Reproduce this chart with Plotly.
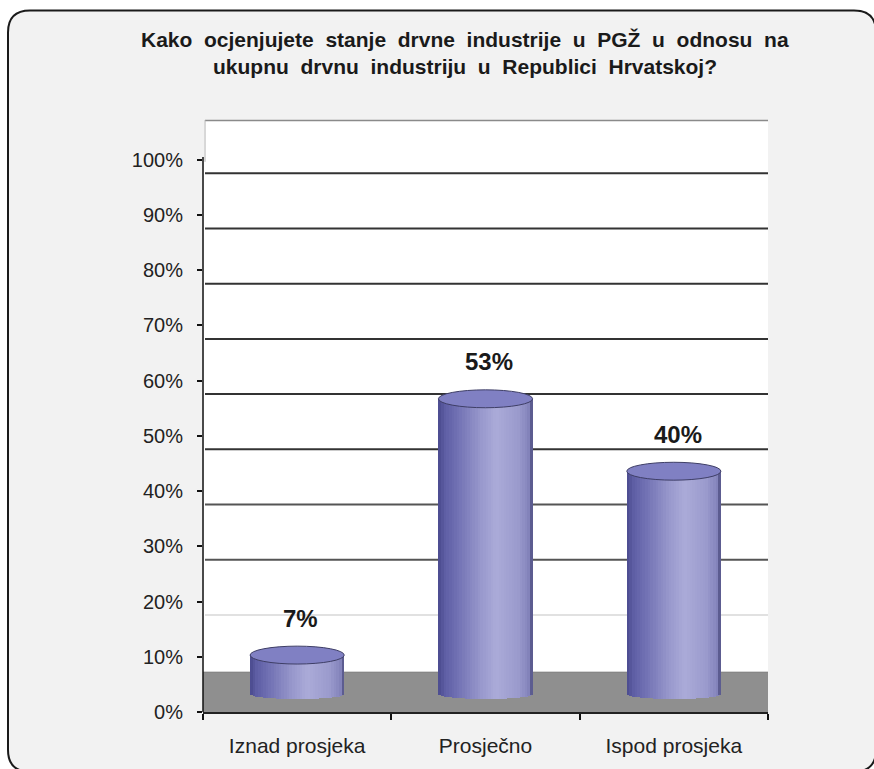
import math
import plotly.graph_objects as go

# ---------------- data ----------------
CATEGORIES = ["Iznad prosjeka", "Prosječno", "Ispod prosjeka"]
VALUES = [7, 53, 40]
LABELS = ["7%", "53%", "40%"]
TICK_VALUES = [0, 10, 20, 30, 40, 50, 60, 70, 80, 90, 100]
TICK_LABELS = ["0%", "10%", "20%", "30%", "40%", "50%", "60%", "70%", "80%", "90%", "100%"]
TITLE_LINES = [
    "Kako ocjenjujete stanje drvne industrije u PGŽ u odnosu na",
    "ukupnu drvnu industriju u Republici Hrvatskoj?",
]

# ---------------- geometry (pixels) ----------------
W, H = 874, 769
L, R, T, B = 203, 768, 120, 715
PW, PH = R - L, B - T
PX_PER_PCT = 5.55                      # front value axis
Y1_RANGE = [0, PH / PX_PER_PCT]
BAR_BASE_PX = 697                      # where cylinder sides end
PX_PER_PCT_BARS = 5.6
Y2_RANGE = [-(B - BAR_BASE_PX) / PX_PER_PCT_BARS, (BAR_BASE_PX - T) / PX_PER_PCT_BARS]
WALL_SHIFT = 13.5 / PX_PER_PCT         # back-wall gridlines sit lower than ticks
FONT = "Liberation Sans, Arial, sans-serif"


def px_x(px):
    return (px - L) / PW


def px_y(py):
    return (B - py) / PH


# cylinder shading
STOPS = [(0.0, (0x4e, 0x4e, 0x92)), (0.06, (0x5f, 0x5f, 0xa5)), (0.2, (0x72, 0x72, 0xb4)),
         (0.45, (0x98, 0x98, 0xcc)), (0.62, (0xab, 0xab, 0xd8)), (0.85, (0x9b, 0x9b, 0xcd)),
         (0.97, (0x85, 0x85, 0xbc)), (1.0, (0x5c, 0x5c, 0x90))]


def grad(f):
    for (a, ca), (b, cb) in zip(STOPS[:-1], STOPS[1:]):
        if a <= f <= b:
            u = (f - a) / (b - a) if b > a else 0
            c = [round(ca[i] + (cb[i] - ca[i]) * u) for i in range(3)]
            return "rgb(%d,%d,%d)" % tuple(c)
    return "rgb(%d,%d,%d)" % STOPS[-1][1]


fig = go.Figure()

N = 36
BW = 0.5
CAP_H = 9 / PX_PER_PCT_BARS
BOT_H = 5 / PX_PER_PCT_BARS
for k in range(N):
    t = (k + 0.5) / N * 2 - 1
    depth = BOT_H * math.sqrt(max(0.0, 1 - t * t))
    w = BW / N * (1.3 if k < N - 1 else 1.0)
    fig.add_trace(go.Bar(
        x=CATEGORIES, y=[v + depth for v in VALUES], base=-depth,
        offset=-BW / 2 + k * BW / N, width=w,
        marker=dict(color=grad(k / (N - 1)), line=dict(width=0)),
        yaxis="y2", hoverinfo="skip", showlegend=False,
    ))

shapes = []
# rounded frame
x0, x1, y0, y1, r = 8, 876, 10, 775, 22
pts = lambda x, y: "%.5f,%.5f" % (px_x(x), px_y(y))
path = ("M " + pts(x0 + r, y0) + " L " + pts(x1 - r, y0) + " Q " + pts(x1, y0) + " " + pts(x1, y0 + r) +
        " L " + pts(x1, y1 - r) + " Q " + pts(x1, y1) + " " + pts(x1 - r, y1) +
        " L " + pts(x0 + r, y1) + " Q " + pts(x0, y1) + " " + pts(x0, y1 - r) +
        " L " + pts(x0, y0 + r) + " Q " + pts(x0, y0) + " " + pts(x0 + r, y0) + " Z")
shapes.append(dict(type="path", path=path, xref="paper", yref="paper", layer="below",
                   fillcolor="#f2f2f2", line=dict(color="#1a1a1a", width=2)))
# back wall
shapes.append(dict(type="rect", xref="paper", yref="paper", layer="below",
                   x0=px_x(204), x1=px_x(768), y0=px_y(675), y1=px_y(120),
                   fillcolor="white", line=dict(width=0)))
shapes.append(dict(type="line", xref="paper", yref="paper", layer="below",
                   x0=px_x(205), x1=px_x(768), y0=px_y(120.5), y1=px_y(120.5),
                   line=dict(color="#8a8a8a", width=1.5)))
shapes.append(dict(type="line", xref="paper", yref="paper", layer="below",
                   x0=px_x(205), x1=px_x(205), y0=px_y(120), y1=px_y(162),
                   line=dict(color="#b0b0b0", width=1)))
# floor
shapes.append(dict(type="rect", xref="paper", yref="paper", layer="below",
                   x0=px_x(203), x1=px_x(768), y0=px_y(716), y1=px_y(675),
                   fillcolor="#8f8f8f", line=dict(width=0)))
shapes.append(dict(type="line", xref="paper", yref="paper", layer="below",
                   x0=px_x(203), x1=px_x(768), y0=px_y(675), y1=px_y(675),
                   line=dict(color="#777777", width=1)))
# wall gridlines
for v in TICK_VALUES:
    if v < 20:
        continue
    if v >= 50:
        col, wd = "#333333", 2
    elif v >= 30:
        col, wd = "#555555", 2
    else:
        col, wd = "#c4c4c4", 1.2
    shapes.append(dict(type="line", xref="paper", yref="y", layer="below",
                       x0=px_x(205), x1=1, y0=v - WALL_SHIFT, y1=v - WALL_SHIFT,
                       line=dict(color=col, width=wd)))
# value axis line
shapes.append(dict(type="line", xref="paper", yref="y", layer="above",
                   x0=0, x1=0, y0=0, y1=100.5, line=dict(color="#111111", width=1.5)))
# cylinder tops
for i, v in enumerate(VALUES):
    shapes.append(dict(type="circle", xref="x", yref="y2", layer="above",
                       x0=i - BW / 2, x1=i + BW / 2, y0=v - CAP_H, y1=v + CAP_H,
                       fillcolor="#8080c3", line=dict(color="#3e3e66", width=1)))

annotations = []
for i, (v, lab) in enumerate(zip(VALUES, LABELS)):
    annotations.append(dict(x=i + 0.02, y=v, xref="x", yref="y2", yshift=37, text="<b>" + lab + "</b>",
                            showarrow=False, font=dict(family=FONT, size=24, color="#1a1a1a"),
                            xanchor="center", yanchor="middle"))
title_y = [39, 66]
for line, yy in zip(TITLE_LINES, title_y):
    annotations.append(dict(x=px_x(465), y=px_y(yy), xref="paper", yref="paper",
                            text="<b>" + line.replace(" ", " \u00a0") + "</b>", showarrow=False,
                            font=dict(family=FONT, size=21, color="#1a1a1a"),
                            xanchor="center", yanchor="middle"))

fig.update_layout(
    width=W, height=H, autosize=False,
    margin=dict(l=L, r=W - R, t=T, b=H - B, pad=0),
    paper_bgcolor="white", plot_bgcolor="rgba(0,0,0,0)",
    barmode="overlay", bargap=0, showlegend=False,
    shapes=shapes, annotations=annotations,
    xaxis=dict(type="category", range=[-0.5, 2.5], tickson="boundaries", ticks="outside",
               ticklen=6, tickwidth=1.5, tickcolor="#111111", showline=True, linecolor="#222222",
               linewidth=2, showgrid=False, zeroline=False, ticklabelstandoff=14,
               tickfont=dict(family=FONT, size=21, color="#222222"), fixedrange=True),
    yaxis=dict(range=Y1_RANGE, tickmode="array", tickvals=TICK_VALUES, ticktext=TICK_LABELS,
               ticks="outside", ticklen=5, tickwidth=1.5, tickcolor="#111111", showgrid=False,
               zeroline=False, showline=False, ticklabelstandoff=10,
               tickfont=dict(family=FONT, size=20, color="#222222"), fixedrange=True),
    yaxis2=dict(range=Y2_RANGE, overlaying="y", visible=False, fixedrange=True),
)

fig.write_html("out.html", config={"displayModeBar": False},
               post_script="document.body.style.margin='0';document.body.style.overflow='hidden';")
